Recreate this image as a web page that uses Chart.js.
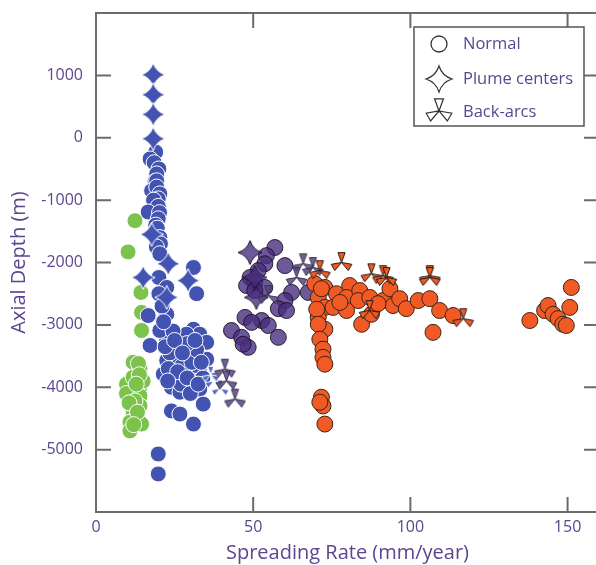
<!DOCTYPE html>
<html>
<head>
<meta charset="utf-8">
<script src="https://cdn.jsdelivr.net/npm/chart.js@4"></script>
<style>
  html, body { margin: 0; padding: 0; background: #fff; overflow: hidden; }
  #wrap { width: 600px; height: 565px; }
</style>
</head>
<body>
<div id="wrap"><canvas id="grafico" width="600" height="565"></canvas></div>
<script>
// ticks
var xTicks = [0, 50, 100, 150];
var yTicks = [1000, 0, -1000, -2000, -3000, -4000, -5000];

// [spreading rate, axial depth]
var greenNormal = [[12.4,-1330],[10.2,-1830],[14.3,-2480],[14.5,-2800],[14.5,-3090],[11.8,-3600],[14,-3700],
  [9.7,-3950],[14,-4000],[9.7,-4100],[14,-4140],[11.3,-4320],[14,-4300],[11.8,-4430],[10.8,-4560],[14.5,-4590],
  [10.8,-4700],[15,-3900],[11.8,-3840],[12.4,-4220],[13.5,-3620],[10.5,-4250],[13.8,-3800],[12.8,-3950],
  [13.2,-4400],[12,-4600]];

var blueNormal = [[19,-230],[17.2,-340],[18.5,-400],[20,-500],[19.3,-580],[18.8,-700],[19.3,-690],[17.7,-850],
  [19.3,-790],[20.3,-900],[19.8,-980],[18.3,-1000],[19.8,-1100],[16.6,-1190],[20.2,-1200],[19.8,-1300],[19,-1400],
  [19.5,-1450],[20.3,-1600],[20.5,-1700],[19.2,-1750],[20.3,-1860],[31,-2080],[20,-2240],[22.5,-2400],[20,-2500],
  [32,-2500],[16.6,-2850],[22.5,-2830],[21,-2700],[31,-3070],[33,-3150],[17.2,-3330],[22.5,-3250],[26.2,-3390],
  [35.2,-3280],[22.5,-3570],[25.6,-3600],[29.9,-3440],[35.2,-3550],[28.8,-3730],[25.6,-3840],[33,-3760],[31,-3900],
  [24,-4000],[26.7,-4080],[33,-4030],[34.1,-4270],[24,-4380],[26.7,-4430],[31,-4590],[19.8,-5070],[19.8,-5390],
  [20.3,-3090],[21.4,-3790],[28.8,-3150],[23.5,-3450],[27.5,-3650],[30.5,-3600],[32,-3400],[24.5,-3100],[29,-3300],
  [21.5,-2950],[23,-3700],[34,-3850],[27,-3950],[30,-4100],[22,-3350],[25,-3250],[27.5,-3450],[31.5,-3250],
  [33.5,-3600],[26,-3750],[22.8,-3900],[29,-3850],[32.5,-3950]];
var bluePlume = [[18.2,1010],[18.2,690],[18.2,374],[18.2,-16],[17.7,-1550],[23,-2020],[15,-2240],[29.3,-2290],[22.5,-2560]];
var blueBackArc = [[37.5,-3900],[39.5,-4020],[36.5,-3800]];

var purpleNormal = [[56.9,-1760],[54.2,-1890],[53.7,-2020],[60.1,-2050],[51.6,-2130],[49,-2240],[50.5,-2320],[47.9,-2370],
  [53.7,-2400],[50.5,-2450],[62.2,-2480],[67.5,-2480],[60.1,-2610],[58,-2740],[60.6,-2770],[47.4,-2880],[52.7,-2930],
  [49.5,-2960],[54.8,-3010],[43.1,-3090],[46.3,-3200],[58,-3200],[48.4,-3360],[46.8,-3310]];
var purplePlume = [[49,-1840],[50.5,-2240],[51,-2560]];
var purpleBackArc = [[65.9,-2020],[69,-2080],[63.8,-2240],[54.8,-2530],[41,-3710],[41.5,-3900],[44.2,-4190]];

var orangeNormal = [[69.6,-2340],[72.8,-2400],[70.7,-2560],[72.8,-2720],[70.7,-2880],[71.7,-2420],[70.2,-2750],
  [72.8,-3070],[70.7,-2990],[71.2,-3230],[72.2,-3390],[72.2,-3520],[72.8,-3630],[71.7,-4160],[72.2,-4300],[72.8,-4590],
  [71.2,-4240],[76.5,-2500],[80.7,-2370],[79.7,-2560],[83.9,-2450],[83.4,-2610],[75.4,-2720],[79.7,-2770],[87.1,-2560],
  [84.5,-2990],[87.6,-2830],[91.3,-2610],[93.5,-2420],[94.5,-2690],[96.6,-2580],[98.7,-2740],[102.5,-2610],[106.2,-2580],
  [89.7,-2660],[77.6,-2640],[109.3,-2770],[113.6,-2850],[107.2,-3120],[138,-2930],[142.7,-2770],[143.8,-2690],
  [145.4,-2830],[147,-2900],[148.5,-2990],[149.6,-3010],[150.7,-2720],[151.2,-2400]];
var orangeBackArc = [[78.1,-2000],[71.2,-2130],[87.6,-2180],[91.3,-2210],[92.4,-2240],[106.2,-2210],[106.2,-2240],[116.8,-2900],[87,-2770]];

var purpleText = '#5b4690';

function toPts(arr){ return arr.map(function(p){ return {x: p[0], y: p[1]}; }); }

// star marker (plume centers)
function starIcon(fill, stroke, r, lw){
  var c = document.createElement('canvas');
  var s = Math.ceil(2 * r + 4);
  c.width = s; c.height = s;
  var g = c.getContext('2d');
  var k = r * 0.24;
  g.translate(s / 2, s / 2);
  g.beginPath();
  g.moveTo(0, -r);
  g.quadraticCurveTo(k, -k, r, 0);
  g.quadraticCurveTo(k, k, 0, r);
  g.quadraticCurveTo(-k, k, -r, 0);
  g.quadraticCurveTo(-k, -k, 0, -r);
  g.closePath();
  g.fillStyle = fill; g.fill();
  g.lineWidth = lw; g.strokeStyle = stroke; g.stroke();
  return c;
}

// three lobed marker (back-arcs)
function backArcIcon(fill, stroke, r, lw){
  var c = document.createElement('canvas');
  var s = Math.ceil(2 * r + 4);
  c.width = s; c.height = s;
  var g = c.getContext('2d');
  g.translate(s / 2, s / 2);
  [-90, 30, 150].forEach(function(a){
    var a1 = (a - 20) * Math.PI / 180, a2 = (a + 20) * Math.PI / 180;
    g.beginPath();
    g.moveTo(0, 0);
    g.lineTo(r * Math.cos(a1), r * Math.sin(a1));
    g.lineTo(r * Math.cos(a2), r * Math.sin(a2));
    g.closePath();
    g.fillStyle = fill; g.fill();
    g.lineWidth = lw; g.strokeStyle = stroke; g.stroke();
  });
  return c;
}

var cBlue = '#4253b1', cGreen = '#7cc34c', cPurple = 'rgba(72,46,128,0.8)', cOrange = '#f15a24';

var frame = {
  id: 'frame',
  beforeDatasetsDraw: function(chart){
    var ctx = chart.ctx, a = chart.chartArea, x = chart.scales.x, y = chart.scales.y;
    ctx.save();
    ctx.strokeStyle = '#6b6b6b';
    ctx.lineWidth = 2;
    ctx.strokeRect(a.left, a.top, a.right - a.left, a.bottom - a.top);
    ctx.beginPath();
    xTicks.forEach(function(v){
      var px = x.getPixelForValue(v);
      ctx.moveTo(px, a.bottom); ctx.lineTo(px, a.bottom - 15);
      ctx.moveTo(px, a.top); ctx.lineTo(px, a.top + 15);
    });
    yTicks.forEach(function(v){
      var py = y.getPixelForValue(v);
      ctx.moveTo(a.left, py); ctx.lineTo(a.left + 15, py);
      ctx.moveTo(a.right, py); ctx.lineTo(a.right - 15, py);
    });
    ctx.stroke();
    ctx.restore();
  },
  afterDraw: function(chart){
    var ctx = chart.ctx;
    ctx.save();
    ctx.fillStyle = '#fff';
    ctx.fillRect(414, 27, 170, 99);
    ctx.strokeStyle = '#555';
    ctx.lineWidth = 1.5;
    ctx.strokeRect(414, 27, 170, 99);
    ctx.beginPath();
    ctx.arc(439, 44, 8, 0, Math.PI * 2);
    ctx.strokeStyle = '#333'; ctx.lineWidth = 1.3; ctx.stroke();
    var st = starIcon('#fff', '#333', 13, 1.2);
    ctx.drawImage(st, 439 - st.width / 2, 79 - st.height / 2);
    var ba = backArcIcon('#fff', '#333', 13, 1.2);
    ctx.drawImage(ba, 439 - ba.width / 2, 111 - ba.height / 2);
    ctx.fillStyle = purpleText;
    ctx.font = '16.5px "Open Sans", sans-serif';
    ctx.textBaseline = 'middle';
    ctx.fillText('Normal', 463, 44);
    ctx.fillText('Plume centers', 463, 79);
    ctx.fillText('Back-arcs', 463, 112);
    ctx.restore();
  }
};

Chart.defaults.font.family = '"Open Sans", sans-serif';
Chart.defaults.color = purpleText;

var ctx = document.getElementById('grafico');
var chart = new Chart(ctx, {
  type: 'scatter',
  data: {
    datasets: [
      { label: 'orange back-arcs', data: toPts(orangeBackArc), pointStyle: backArcIcon(cOrange, '#2a1a12', 10.5, 1) },
      { label: 'orange normal', data: toPts(orangeNormal), pointStyle: 'circle', pointRadius: 8,
        backgroundColor: cOrange, borderColor: '#3a2418', borderWidth: 1 },
      { label: 'purple back-arcs', data: toPts(purpleBackArc), pointStyle: backArcIcon('rgba(85,70,130,0.85)', '#3a3050', 10.5, 1) },
      { label: 'purple plume', data: toPts(purplePlume), pointStyle: starIcon(cPurple, '#201530', 12, 1) },
      { label: 'purple normal', data: toPts(purpleNormal), pointStyle: 'circle', pointRadius: 8,
        backgroundColor: cPurple, borderColor: 'rgba(20,10,30,0.85)', borderWidth: 1 },
      { label: 'blue back-arcs', data: toPts(blueBackArc), pointStyle: backArcIcon('#5566c0', '#ffffff', 9, 1) },
      { label: 'blue plume', data: toPts(bluePlume), pointStyle: starIcon(cBlue, '#ffffff', 12, 1) },
      { label: 'blue normal', data: toPts(blueNormal), pointStyle: 'circle', pointRadius: 8,
        backgroundColor: cBlue, borderColor: '#ffffff', borderWidth: 1 },
      { label: 'green normal', data: toPts(greenNormal), pointStyle: 'circle', pointRadius: 8,
        backgroundColor: cGreen, borderColor: '#ffffff', borderWidth: 1 }
    ]
  },
  options: {
    responsive: false,
    animation: false,
    layout: { autoPadding: false, padding: { top: 13, right: 1, left: 0, bottom: 0 } },
    plugins: { legend: { display: false }, tooltip: { enabled: false } },
    scales: {
      x: {
        type: 'linear', min: 0, max: 160,
        grid: { display: false, drawTicks: false }, border: { display: false },
        afterBuildTicks: function(s){ s.ticks = xTicks.map(function(v){ return {value: v}; }); },
        afterFit: function(s){ s.height = 53; s.paddingLeft = 0; s.paddingRight = 0; },
        ticks: { padding: 6, font: { size: 16 }, color: purpleText, callback: function(v){ return String(v); } },
        title: { display: true, text: 'Spreading Rate (mm/year)', color: purpleText, font: { size: 20 }, padding: { top: 0, bottom: 0 } }
      },
      y: {
        type: 'linear', min: -6000, max: 2000,
        grid: { display: false, drawTicks: false }, border: { display: false },
        afterBuildTicks: function(s){ s.ticks = yTicks.map(function(v){ return {value: v}; }); },
        afterFit: function(s){ s.width = 96; s.paddingTop = 0; s.paddingBottom = 0; },
        ticks: { padding: 13, font: { size: 16 }, color: purpleText, callback: function(v){ return String(v); } },
        title: { display: true, text: 'Axial Depth (m)', color: purpleText, font: { size: 20 }, padding: { top: 7, bottom: 0 } }
      }
    }
  },
  plugins: [frame]
});
</script>
</body>
</html>
